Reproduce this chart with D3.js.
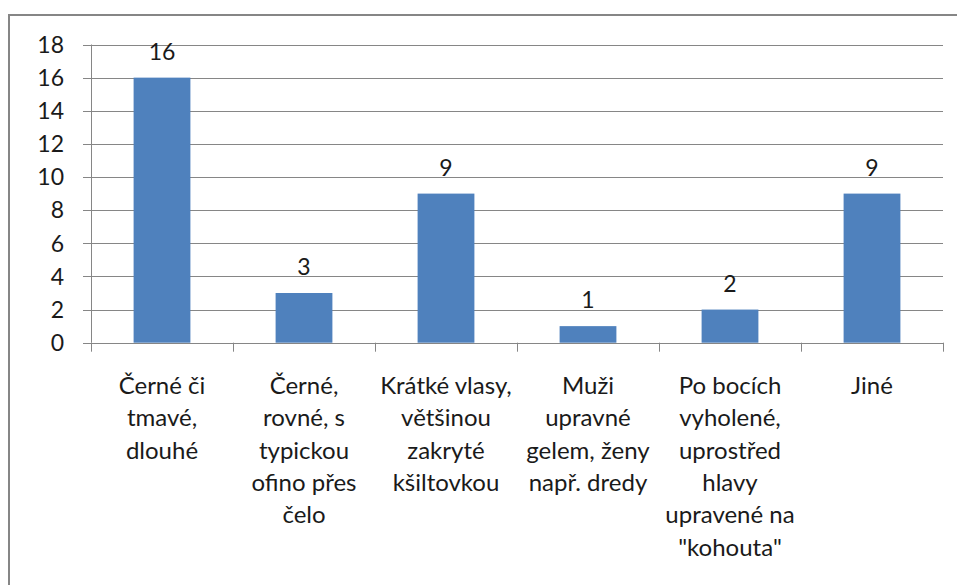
<!DOCTYPE html>
<html><head><meta charset="utf-8">
<script src="https://cdn.jsdelivr.net/npm/d3@7"></script>
<style>body{margin:0;background:#fff;} svg{display:block;}</style>
</head><body>
<svg id="chart" width="957" height="585"></svg>
<script>
const categories = [
  ["Černé či", "tmavé,", "dlouhé"],
  ["Černé,", "rovné, s", "typickou", "ofino přes", "čelo"],
  ["Krátké vlasy,", "většinou", "zakryté", "kšiltovkou"],
  ["Muži", "upravné", "gelem, ženy", "např. dredy"],
  ["Po bocích", "vyholené,", "uprostřed", "hlavy", "upravené na", "\"kohouta\""],
  ["Jiné"]
];
const values = [16, 3, 9, 1, 2, 9];
const yTicks = [0, 2, 4, 6, 8, 10, 12, 14, 16, 18];

const svg = d3.select("#chart");
const font = "Lato, 'Open Sans', sans-serif";
const pLeft = 91, pRight = 943, pTop = 44.5, pBottom = 342.7;

svg.append("rect").attr("x", 9).attr("y", 15).attr("width", 960).attr("height", 600)
  .attr("fill", "#fff").attr("stroke", "#868686").attr("stroke-width", 2);

const x = d3.scaleBand().domain(d3.range(values.length)).range([pLeft, pRight]).paddingInner(0.6).paddingOuter(0.3);
const xb = d3.scaleBand().domain(d3.range(values.length)).range([pLeft, pRight]);
const y = d3.scaleLinear().domain([0, 18]).range([pBottom, pTop]);

// gridlines
svg.append("g").selectAll("line").data(yTicks).join("line")
  .attr("x1", pLeft - 8).attr("x2", pRight)
  .attr("y1", d => Math.round(y(d)) + 0.5).attr("y2", d => Math.round(y(d)) + 0.5)
  .attr("stroke", "#868686").attr("stroke-width", 1);

// y axis line
svg.append("line").attr("x1", pLeft + 0.5).attr("x2", pLeft + 0.5).attr("y1", pTop).attr("y2", pBottom)
  .attr("stroke", "#868686");

// x axis ticks at boundaries
const bounds = d3.range(values.length + 1).map(i => pLeft + i * xb.step());
svg.append("g").selectAll("line").data(bounds).join("line")
  .attr("x1", d => Math.round(d) + 0.5).attr("x2", d => Math.round(d) + 0.5)
  .attr("y1", pBottom).attr("y2", pBottom + 9)
  .attr("stroke", "#868686");

// y labels
svg.append("g").selectAll("text").data(yTicks).join("text")
  .attr("x", 64).attr("y", d => y(d)).attr("dy", "0.36em")
  .attr("text-anchor", "end").attr("font-family", font).attr("font-size", 23)
  .attr("fill", "#1a1a1a").text(d => d);

// bars
svg.append("g").selectAll("rect").data(values).join("rect")
  .attr("x", (d, i) => x(i)).attr("width", x.bandwidth())
  .attr("y", d => y(d)).attr("height", d => y(0) - y(d))
  .attr("fill", "#4F81BD");

// value labels
svg.append("g").selectAll("text").data(values).join("text")
  .attr("x", (d, i) => xb(i) + xb.bandwidth() / 2).attr("y", d => y(d) - 18)
  .attr("text-anchor", "middle").attr("font-family", font).attr("font-size", 23)
  .attr("fill", "#1a1a1a").text(d => d);

// category labels
const cg = svg.append("g").selectAll("text").data(categories).join("text")
  .attr("text-anchor", "middle").attr("font-family", font).attr("font-size", 24)
  .attr("fill", "#1a1a1a");
cg.each(function(lines, i) {
  d3.select(this).selectAll("tspan").data(lines).join("tspan")
    .attr("x", xb(i) + xb.bandwidth() / 2)
    .attr("y", (d, j) => 394 + j * 32.3)
    .text(d => d);
});
</script>
</body></html>
